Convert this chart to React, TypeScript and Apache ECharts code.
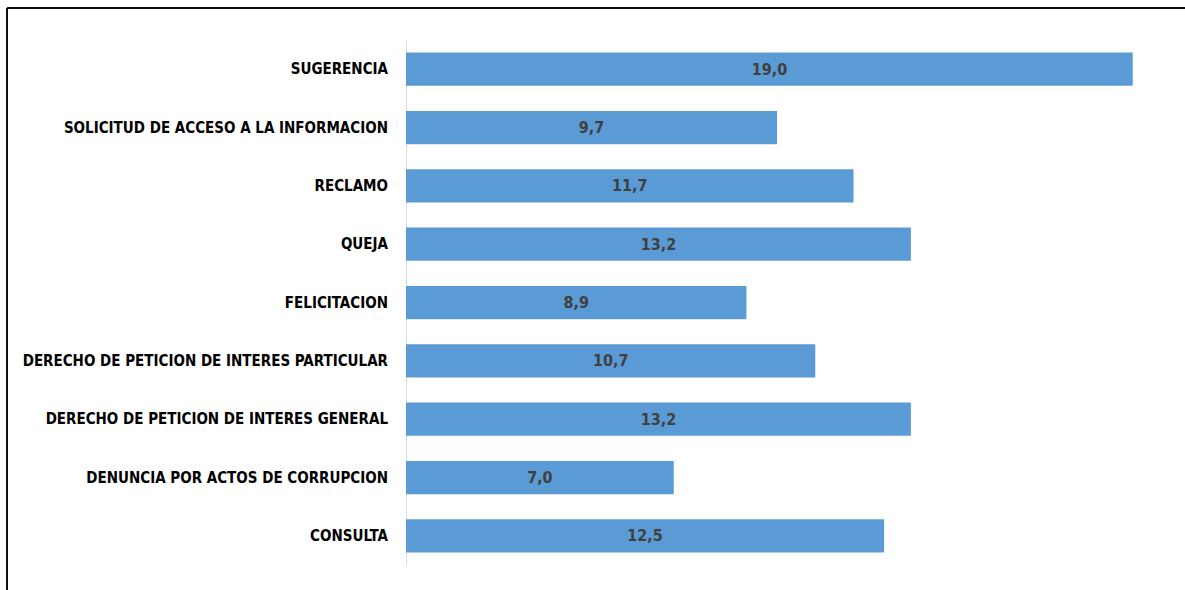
import React, { useEffect, useRef } from "react";
import * as echarts from "echarts";

const categories = [
  "SUGERENCIA",
  "SOLICITUD DE ACCESO A LA INFORMACION",
  "RECLAMO",
  "QUEJA",
  "FELICITACION",
  "DERECHO DE PETICION DE INTERES PARTICULAR",
  "DERECHO DE PETICION DE INTERES GENERAL",
  "DENUNCIA POR ACTOS DE CORRUPCION",
  "CONSULTA",
];
const values = [19.0, 9.7, 11.7, 13.2, 8.9, 10.7, 13.2, 7.0, 12.5];

const FONT = "'Liberation Sans Narrow', 'DejaVu Sans Condensed', 'Roboto Condensed', 'Liberation Sans', sans-serif";

export default function App() {
  const ref = useRef<HTMLDivElement>(null);
  useEffect(() => {
    document.body.style.margin = "0";
    const chart = echarts.init(ref.current!, null, { renderer: "svg" });
    chart.setOption({
      animation: false,
      backgroundColor: "#ffffff",
      grid: {
        left: 406,
        right: 14,
        top: 40,
        bottom: 25,
        containLabel: false,
        outerBoundsMode: "none",
      },
      xAxis: {
        type: "value",
        min: 0,
        max: 20,
        show: false,
      },
      yAxis: {
        type: "category",
        data: categories,
        inverse: true,
        axisLine: { show: true, lineStyle: { color: "#d9d9d9", width: 1 } },
        axisTick: { show: false },
        splitLine: { show: false },
        axisLabel: {
          margin: 18,
          color: "#000000",
          fontFamily: FONT,
          fontWeight: "bold",
          fontSize: 15,
        },
      },
      series: [
        {
          type: "bar",
          data: values,
          barWidth: "57%",
          itemStyle: { color: "#5b9bd5" },
          label: {
            show: true,
            position: "inside",
            color: "#404040",
            fontFamily: FONT,
            fontWeight: "bold",
            fontSize: 16,
            formatter: (p: any) => Number(p.value).toFixed(1).replace(".", ","),
          },
        },
      ],
      graphic: [
        {
          type: "line",
          shape: { x1: 7, y1: 8, x2: 1185, y2: 8 },
          style: { stroke: "#111111", lineWidth: 2 },
        },
        {
          type: "line",
          shape: { x1: 7, y1: 8, x2: 7, y2: 590 },
          style: { stroke: "#111111", lineWidth: 2 },
        },
      ],
    });
    return () => chart.dispose();
  }, []);
  return <div ref={ref} style={{ width: 1185, height: 590 }} />;
}
